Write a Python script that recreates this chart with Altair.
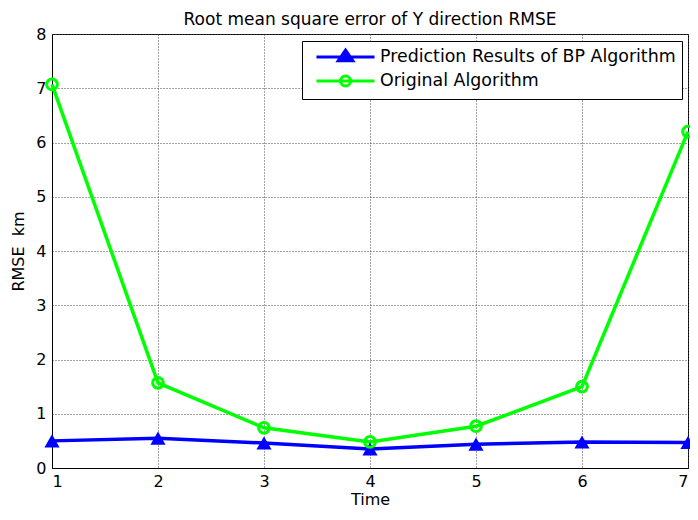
import altair as alt
import pandas as pd

# ---- data ----
time = [1, 2, 3, 4, 5, 6, 7]
bp_rmse = [0.50, 0.55, 0.46, 0.35, 0.44, 0.48, 0.47]
orig_rmse = [7.07, 1.57, 0.74, 0.48, 0.77, 1.50, 6.20]
series_names = ["Prediction Results of BP Algorithm", "Original Algorithm"]
series_colors = ["#0000FF", "#00FF00"]
legend_fills = ["#0000FF", "#FFFFFF"]
x_ticks = [1, 2, 3, 4, 5, 6, 7]
y_ticks = [0, 1, 2, 3, 4, 5, 6, 7, 8]

rows = []
for name, vals in zip(series_names, [bp_rmse, orig_rmse]):
    for t, v in zip(time, vals):
        rows.append({"Time": t, "RMSE": v, "series": name})
df = pd.DataFrame(rows)

FONT = "DejaVu Sans"

# legend symbols: a line segment with the marker in its middle
tri_path = "M-0.18,0L6.65,0M3.24,-0.8L4.1,0.45L2.38,0.45Z"
circ_path = ("M-0.18,0L6.65,0"
             "M3.83,0C3.83,0.325,3.565,0.59,3.24,0.59"
             "C2.915,0.59,2.65,0.325,2.65,0"
             "C2.65,-0.325,2.915,-0.59,3.24,-0.59"
             "C3.565,-0.59,3.83,-0.325,3.83,0Z")

x_enc = alt.X(
    "Time:Q",
    scale=alt.Scale(domain=[1, 7], nice=False, zero=False),
    axis=alt.Axis(values=x_ticks, title="Time", format="d", labelPadding=5,
                  titlePadding=2),
)
y_enc = alt.Y(
    "RMSE:Q",
    scale=alt.Scale(domain=[0, 8], nice=False),
    axis=alt.Axis(values=y_ticks, title="RMSE\u00a0\u00a0km", format="d",
                  labelPadding=6, titlePadding=9),
)
# colour scale for the drawn marks (listed in reverse so its legend stays separate & hidden)
color_enc = alt.Color(
    "series:N",
    scale=alt.Scale(domain=series_names[::-1], range=series_colors[::-1]),
    legend=None,
)

base = alt.Chart(df)

lines = base.mark_line(strokeWidth=3.5).encode(
    x=x_enc, y=y_enc, color=color_enc, detail="series:N"
)
triangles = base.transform_filter(
    alt.datum.series == series_names[0]
).mark_point(shape="triangle-up", filled=True, size=230, opacity=1,
             strokeWidth=1.5).encode(x=x_enc, y=y_enc, color=color_enc)
circles = base.transform_filter(
    alt.datum.series == series_names[1]
).mark_point(shape="circle", filled=False, size=115, opacity=1,
             strokeWidth=3).encode(x=x_enc, y=y_enc, color=color_enc)

leg = alt.Legend(
    title=None, orient="none", legendX=250, legendY=7,
    symbolSize=289, symbolStrokeWidth=3, symbolOpacity=1,
    labelFontSize=17.4, labelFont=FONT, labelColor="black", labelLimit=500,
    labelOffset=52, padding=6, rowPadding=2,
    fillColor="white", strokeColor="black", cornerRadius=0,
)
legend_layer = base.mark_point(
    filled=True, opacity=0, size=1
).encode(
    x=x_enc, y=y_enc,
    stroke=alt.Stroke("series:N", scale=alt.Scale(domain=series_names, range=series_colors), legend=leg),
    fill=alt.Fill("series:N", scale=alt.Scale(domain=series_names, range=legend_fills), legend=leg),
    shape=alt.Shape("series:N", scale=alt.Scale(domain=series_names, range=[tri_path, circ_path]), legend=leg),
)

chart = alt.layer(lines, triangles, circles, legend_layer).properties(
    width=636,
    height=434,
    title=alt.TitleParams("Root mean square error of Y direction RMSE",
                          font=FONT, fontSize=17, fontWeight="normal",
                          color="black", offset=-3, anchor="middle"),
    autosize=alt.AutoSizeParams(type="none"),
    padding={"left": 44, "top": 26, "right": 2, "bottom": 40},
    background="white",
).configure_view(
    stroke="black", strokeWidth=1
).configure_axis(
    labelFont=FONT, labelFontSize=16, labelColor="black",
    titleFont=FONT, titleFontSize=16, titleColor="black", titleFontWeight="normal",
    domainColor="black", domainWidth=1,
    ticks=False,
    grid=True, gridColor="#444444", gridDash=[1, 2], gridWidth=1, gridOpacity=1,
)

chart.save("out.html", embed_options={"renderer": "svg", "actions": False})
